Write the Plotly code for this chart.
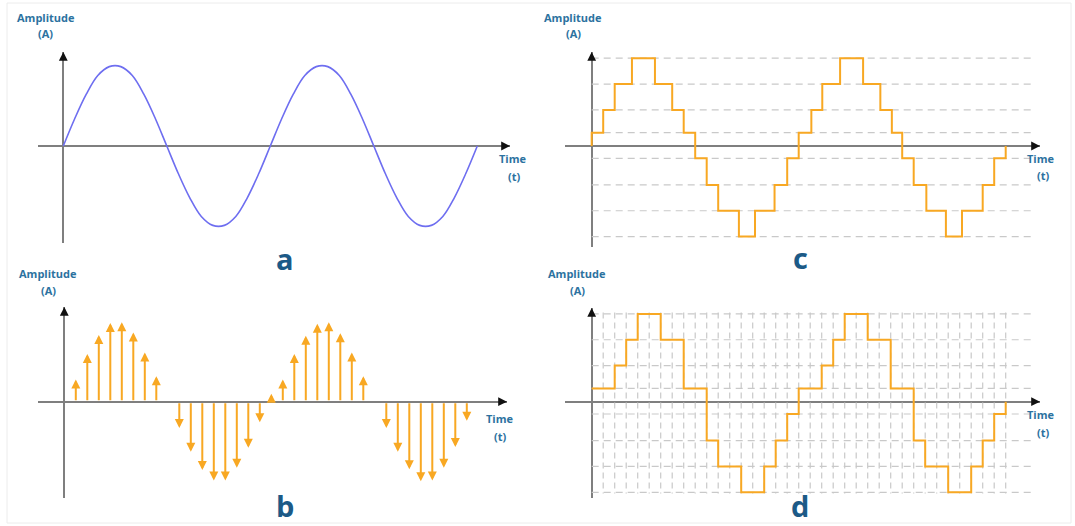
import plotly.graph_objects as go

W, H = 1075, 526

# ---------------- data ----------------
# (a) analog signal: amplitude read at sampling instants t = 0..36 (18 samples per period)
t_a = list(range(37))
amp_a = [0, 0.34, 0.64, 0.87, 0.98, 0.98, 0.87, 0.64, 0.34,
         0, -0.34, -0.64, -0.87, -0.98, -0.98, -0.87, -0.64, -0.34,
         0, 0.34, 0.64, 0.87, 0.98, 0.98, 0.87, 0.64, 0.34,
         0, -0.34, -0.64, -0.87, -0.98, -0.98, -0.87, -0.64, -0.34, 0]

# (b) sampled signal: sample instants and sampled amplitudes
t_b = [1, 2, 3, 4, 5, 6, 7, 8,
       10, 11, 12, 13, 14, 15, 16, 17,
       18,
       19, 20, 21, 22, 23, 24, 25, 26,
       28, 29, 30, 31, 32, 33, 34, 35]
amp_b = [0.28, 0.60, 0.84, 0.99, 1.00, 0.87, 0.62, 0.32,
         -0.33, -0.63, -0.86, -0.99, -0.99, -0.83, -0.58, -0.26,
         0.10,
         0.28, 0.60, 0.83, 0.98, 1.00, 0.86, 0.62, 0.32,
         -0.33, -0.63, -0.85, -1.00, -0.99, -0.83, -0.57, -0.24]

# quantisation levels (level index -> amplitude value)
level_index = [-4, -3, -2, -1, 0, 1, 2, 3, 4]
level_value = [-3.54, -2.53, -1.52, -0.48, 0.0, 0.52, 1.41, 2.42, 3.43]
grid_levels = [-4, -3, -2, -1, 1, 2, 3, 4]

# (c) quantised signal: step instants and level index held from each instant
t_c = [0, 0, 1, 2, 3.5, 5.5, 7, 8, 9, 10, 11, 12.8, 14.2, 15.9, 17,
       18, 19.1, 20.05, 21.6, 23.6, 25.1, 26.1, 27, 28, 29.1, 30.8, 32.2, 34, 35, 36]
lvl_c = [0, 1, 2, 3, 4, 3, 2, 1, -1, -2, -3, -4, -3, -2, -1,
         1, 2, 3, 4, 3, 2, 1, -1, -2, -3, -4, -3, -2, -1, 0]

# (d) digital signal: sampled + quantised
t_d = [0, 2, 3, 4, 6, 8, 10, 11, 13, 15, 16, 17,
       18, 20, 21, 22, 24, 26, 28, 29, 31, 33, 34, 35, 36]
lvl_d = [1, 2, 3, 4, 3, 1, -2, -3, -4, -3, -2, -1,
         1, 2, 3, 4, 3, 1, -2, -3, -4, -3, -2, -1, 0]
sample_instants_d = list(range(1, 37))

panel_letters = ["a", "b", "c", "d"]

# ---------------- styling / geometry ----------------
ORANGE = "#f8a823"
SINE = "#6e6ef0"
AXIS = "#7f7f7f"
GRID = "#c9c9c9"
LABEL = "#2c72a0"
LETTER = "#1c5a87"
LV = dict(zip(level_index, level_value))

# pixel geometry of each panel: axis extent box, origin, px per unit
geo = {
    1: dict(xpx=(38, 510), ypx=(52, 243), o=(63.3, 146.0), ux=11.5, uy=81.0),
    2: dict(xpx=(38, 507), ypx=(307, 498), o=(64.3, 401.7), ux=11.5, uy=79.5),
    3: dict(xpx=(565, 1040), ypx=(52, 247), o=(591.7, 146.0), ux=11.5, uy=25.6),
    4: dict(xpx=(565, 1040), ypx=(308, 498), o=(591.7, 401.7), ux=11.5, uy=25.6),
}

fig = go.Figure()
layout = dict(width=W, height=H, margin=dict(l=0, r=0, t=0, b=0), autosize=False,
              paper_bgcolor="white", plot_bgcolor="rgba(0,0,0,0)", showlegend=False)
ranges = {}
for i, g in geo.items():
    (x0, x1), (y0, y1), (ox, oy) = g["xpx"], g["ypx"], g["o"]
    xr = [(x0 - ox) / g["ux"], (x1 - ox) / g["ux"]]
    yr = [(oy - y1) / g["uy"], (oy - y0) / g["uy"]]
    ranges[i] = (xr, yr)
    sfx = "" if i == 1 else str(i)
    common = dict(showgrid=False, showticklabels=False, ticks="", showline=False,
                  zeroline=True, zerolinecolor=AXIS, zerolinewidth=2, fixedrange=True)
    layout["xaxis" + sfx] = dict(domain=[x0 / W, x1 / W], range=xr, anchor="y" + sfx, **common)
    layout["yaxis" + sfx] = dict(domain=[1 - y1 / H, 1 - y0 / H], range=yr, anchor="x" + sfx, **common)
fig.update_layout(**layout)

def ax_ref(i):
    return ("x" if i == 1 else f"x{i}"), ("y" if i == 1 else f"y{i}")

# grid for (c) and (d)
for i in (3, 4):
    xa, ya = ax_ref(i)
    gx, gy = [], []
    for L in grid_levels:
        gx += [0, 38.26, None]
        gy += [LV[L], LV[L], None]
    fig.add_trace(go.Scatter(x=gx, y=gy, mode="lines", xaxis=xa, yaxis=ya, hoverinfo="skip",
                             line=dict(color=GRID, width=1.2, dash="7px,5px")))
xa, ya = ax_ref(4)
vx, vy = [], []
for k in sample_instants_d:
    vx += [k, k, None]
    vy += [LV[4] + 0.05, LV[-4] - 0.05, None]
fig.add_trace(go.Scatter(x=vx, y=vy, mode="lines", xaxis=xa, yaxis=ya, hoverinfo="skip",
                         line=dict(color=GRID, width=1.2, dash="6px,4px")))

# (a) analog sine
fig.add_trace(go.Scatter(x=t_a, y=amp_a, mode="lines", xaxis="x", yaxis="y",
                         line=dict(color=SINE, width=1.6, shape="spline", smoothing=1.0)))

# (c) quantised staircase
xa, ya = ax_ref(3)
fig.add_trace(go.Scatter(x=t_c, y=[LV[l] for l in lvl_c], mode="lines", xaxis=xa, yaxis=ya,
                         line=dict(color=ORANGE, width=2, shape="hv")))
# (d) digital staircase
xa, ya = ax_ref(4)
fig.add_trace(go.Scatter(x=t_d, y=[LV[l] for l in lvl_d], mode="lines", xaxis=xa, yaxis=ya,
                         line=dict(color=ORANGE, width=2, shape="hv")))

annotations = []
# (b) sample arrows
xa, ya = ax_ref(2)
for t, v in zip(t_b, amp_b):
    annotations.append(dict(x=t, y=v, ax=t, ay=0, xref=xa, yref=ya, axref=xa, ayref=ya,
                            text="", showarrow=True, arrowhead=2, arrowsize=0.9,
                            arrowwidth=2, arrowcolor=ORANGE))

# axis arrowheads
for i in geo:
    xa, ya = ax_ref(i)
    xr, yr = ranges[i]
    annotations.append(dict(x=0, y=yr[1], xref=xa, yref=ya, ax=0, ay=6, text="",
                            showarrow=True, arrowhead=2, arrowsize=1.1, arrowwidth=1.6,
                            arrowcolor="#111111"))
    annotations.append(dict(x=xr[1], y=0, xref=xa, yref=ya, ax=-6, ay=0, text="",
                            showarrow=True, arrowhead=2, arrowsize=1.1, arrowwidth=1.6,
                            arrowcolor="#111111"))

def txt(xp, yp, s, size, color):
    annotations.append(dict(x=xp / W, y=1 - yp / H, xref="paper", yref="paper", text=s,
                            showarrow=False, xanchor="center", yanchor="middle",
                            font=dict(family="Open Sans", size=size, color=color)))

amp_pos = [(46, 17, 45, 33), (48, 273, 48, 290), (573, 17, 573, 33), (577, 273, 577, 290)]
time_pos = [(513, 158, 514, 176), (500, 418, 500, 436), (1041, 158, 1043, 175), (1041, 414, 1043, 432)]
letter_pos = [(285, 259), (285, 505), (800, 257), (800, 505)]
for k in range(4):
    a1, a2, a3, a4 = amp_pos[k]
    txt(a1, a2, "<b>Amplitude</b>", 11, LABEL)
    txt(a3, a4, "<b>(A)</b>", 11, LABEL)
    t1, t2, t3, t4 = time_pos[k]
    txt(t1, t2, "<b>Time</b>", 11, LABEL)
    txt(t3, t4, "<b>(t)</b>", 11, LABEL)
    lx, ly = letter_pos[k]
    txt(lx, ly, f"<b>{panel_letters[k]}</b>", 29, LETTER)

fig.update_layout(annotations=annotations)
fig.add_shape(type="rect", xref="paper", yref="paper", x0=7 / W, x1=1071 / W,
              y0=1 - 523 / H, y1=1 - 3 / H, line=dict(color="#ececec", width=1))

fig.write_html("out.html", config={"displayModeBar": False},
               post_script="document.body.style.margin='0';document.body.style.overflow='hidden';")
